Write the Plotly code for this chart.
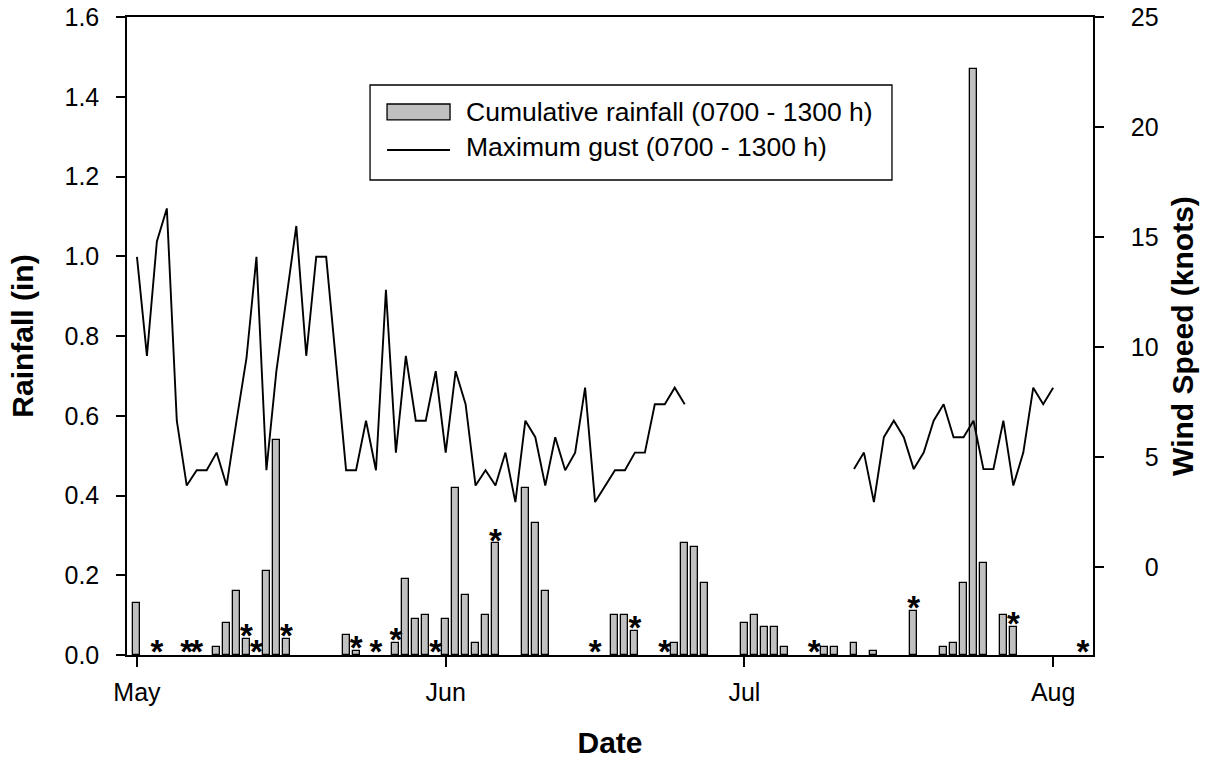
import pandas as pd
import plotly.graph_objects as go

YEAR = "2003"

# Cumulative rainfall (0700 - 1300 h), inches
rain_dates = ["05-01", "05-09", "05-10", "05-11", "05-12", "05-14", "05-15", "05-16",
              "05-22", "05-23", "05-27", "05-28", "05-29", "05-30",
              "06-01", "06-02", "06-03", "06-04", "06-05", "06-06",
              "06-09", "06-10", "06-11", "06-18", "06-19", "06-20",
              "06-24", "06-25", "06-26", "06-27",
              "07-01", "07-02", "07-03", "07-04", "07-05", "07-09", "07-10",
              "07-12", "07-14", "07-18", "07-21", "07-22", "07-23", "07-24",
              "07-25", "07-27", "07-28"]
rain_in = [0.13, 0.02, 0.08, 0.16, 0.04, 0.21, 0.54, 0.04,
           0.05, 0.01, 0.03, 0.19, 0.09, 0.10,
           0.09, 0.42, 0.15, 0.03, 0.10, 0.28,
           0.42, 0.33, 0.16, 0.10, 0.10, 0.06,
           0.03, 0.28, 0.27, 0.18,
           0.08, 0.10, 0.07, 0.07, 0.02, 0.02, 0.02,
           0.03, 0.01, 0.11, 0.02, 0.03, 0.18, 1.47,
           0.23, 0.10, 0.07]

# Days flagged with an asterisk
star_dates = ["05-03", "05-06", "05-07", "05-12", "05-13", "05-16", "05-23", "05-25",
              "05-27", "05-31", "06-06", "06-16", "06-20", "06-23", "07-08", "07-18",
              "07-28", "08-04"]

# Maximum gust (0700 - 1300 h), knots, daily from May 1 to Aug 1 (None = no data)
wind_first, wind_last = "05-01", "08-01"
wind_knots = [14.1, 9.6, 14.8, 16.3, 6.65, 3.7, 4.4, 4.4, 5.2, 3.7,
              6.65, 9.5, 14.1, 4.4, 8.9, 12.2, 15.5, 9.6, 14.1, 14.1,
              9.3, 4.4, 4.4, 6.65, 4.4, 12.6, 5.2, 9.6, 6.65, 6.65,
              8.9, 5.2, 8.9, 7.4, 3.7, 4.4, 3.7, 5.2, 2.95, 6.65,
              5.9, 3.7, 5.9, 4.4, 5.2, 8.15, 2.95, 3.7, 4.4, 4.4,
              5.2, 5.2, 7.4, 7.4, 8.15, 7.4,
              None, None, None, None, None, None, None, None,
              None, None, None, None, None, None, None, None,
              4.45, 5.2, 2.95, 5.9, 6.65, 5.9, 4.45, 5.2, 6.65, 7.4,
              5.9, 5.9, 6.65, 4.45, 4.45, 6.65, 3.7, 5.2, 8.15, 7.4, 8.15]

month_ticks = ["05-01", "06-01", "07-01", "08-01"]
month_labels = ["May", "Jun", "Jul", "Aug"]
rain_ticks = [0.0, 0.2, 0.4, 0.6, 0.8, 1.0, 1.2, 1.4, 1.6]
wind_ticks = [0, 5, 10, 15, 20, 25]

legend_labels = ["Cumulative rainfall (0700 - 1300 h)", "Maximum gust (0700 - 1300 h)"]


def d(md):
    return f"{YEAR}-{md}"


FONT = "Liberation Sans, Arial, sans-serif"
DAY_MS = 86400000

fig = go.Figure()

fig.add_trace(go.Bar(
    x=[d(m) for m in rain_dates], y=rain_in, width=0.7 * DAY_MS,
    marker=dict(color="#c0c0c0", line=dict(color="black", width=1.3)),
    name=legend_labels[0], showlegend=False, yaxis="y"))

rain_lookup = dict(zip(rain_dates, rain_in))
star_y = [rain_lookup.get(m, 0.0) for m in star_dates]
fig.add_trace(go.Scatter(
    x=[d(m) for m in star_dates], y=star_y, mode="text",
    text=["*"] * len(star_dates), textposition="middle center",
    textfont=dict(size=33, color="black", family="Liberation Sans", weight="bold"),
    showlegend=False, yaxis="y", cliponaxis=False))

wind_x = pd.date_range(d(wind_first), d(wind_last), freq="D")
fig.add_trace(go.Scatter(
    x=wind_x, y=wind_knots, mode="lines", connectgaps=False,
    line=dict(color="black", width=1.9),
    name=legend_labels[1], showlegend=False, yaxis="y2"))

# legend (drawn box with swatches)
shapes = [
    dict(type="rect", xref="paper", yref="paper", x0=0.2516, x1=0.7919, y0=0.7445, y1=0.8934,
         line=dict(color="black", width=1.3), fillcolor="white", layer="below"),
    dict(type="rect", xref="paper", yref="paper", x0=0.2692, x1=0.3344, y0=0.8386, y1=0.8636,
         line=dict(color="black", width=1.3), fillcolor="#c0c0c0"),
    dict(type="line", xref="paper", yref="paper", x0=0.2692, x1=0.3344, y0=0.7915, y1=0.7915,
         line=dict(color="black", width=1.9)),
]
annotations = [
    dict(xref="paper", yref="paper", x=0.3490, y=0.8511, text=legend_labels[0], showarrow=False,
         xanchor="left", yanchor="middle", font=dict(size=26.5, family=FONT, color="black")),
    dict(xref="paper", yref="paper", x=0.3490, y=0.7955, text=legend_labels[1], showarrow=False,
         xanchor="left", yanchor="middle", font=dict(size=26.5, family=FONT, color="black")),
]

fig.update_layout(
    width=1207, height=759,
    margin=dict(l=127, r=114, t=17, b=104, autoexpand=False),
    paper_bgcolor="white", plot_bgcolor="white",
    font=dict(family=FONT, size=25, color="black"),
    bargap=0, showlegend=False,
    shapes=shapes, annotations=annotations,
    xaxis=dict(
        type="date", range=[d("04-30"), d("08-05")], automargin=False,
        tickvals=[d(m) for m in month_ticks], ticktext=month_labels,
        ticks="outside", ticklen=10, tickwidth=1.5, tickcolor="black",
        showline=True, linecolor="black", linewidth=1.5, mirror=True,
        showgrid=False, zeroline=False, ticklabelstandoff=4,
        tickfont=dict(size=25, family=FONT),
        title=dict(text="<b>Date</b>", font=dict(size=30, family=FONT), standoff=30),
    ),
    yaxis=dict(
        range=[0, 1.6], tickvals=rain_ticks, tickformat=".1f", automargin=False,
        ticks="outside", ticklen=9, tickwidth=1.5, tickcolor="black",
        showline=True, linecolor="black", linewidth=1.5,
        showgrid=False, zeroline=False, ticklabelstandoff=12,
        tickfont=dict(size=25, family=FONT),
        title=dict(text="<b>Rainfall (in)</b>", font=dict(size=30, family=FONT), standoff=22),
    ),
    yaxis2=dict(
        overlaying="y", side="right", range=[-4, 25], tickvals=wind_ticks, automargin=False,
        ticktext=[("\u00a0\u00a0" + str(v)) if v < 10 else str(v) for v in wind_ticks],
        ticks="outside", ticklen=9, tickwidth=1.5, tickcolor="black",
        showline=True, linecolor="black", linewidth=1.5,
        showgrid=False, zeroline=False, ticklabelstandoff=22,
        tickfont=dict(size=25, family=FONT),
        title=dict(text="<b>Wind Speed (knots)</b>", font=dict(size=30, family=FONT), standoff=14),
    ),
)

fig.write_html("out.html")
